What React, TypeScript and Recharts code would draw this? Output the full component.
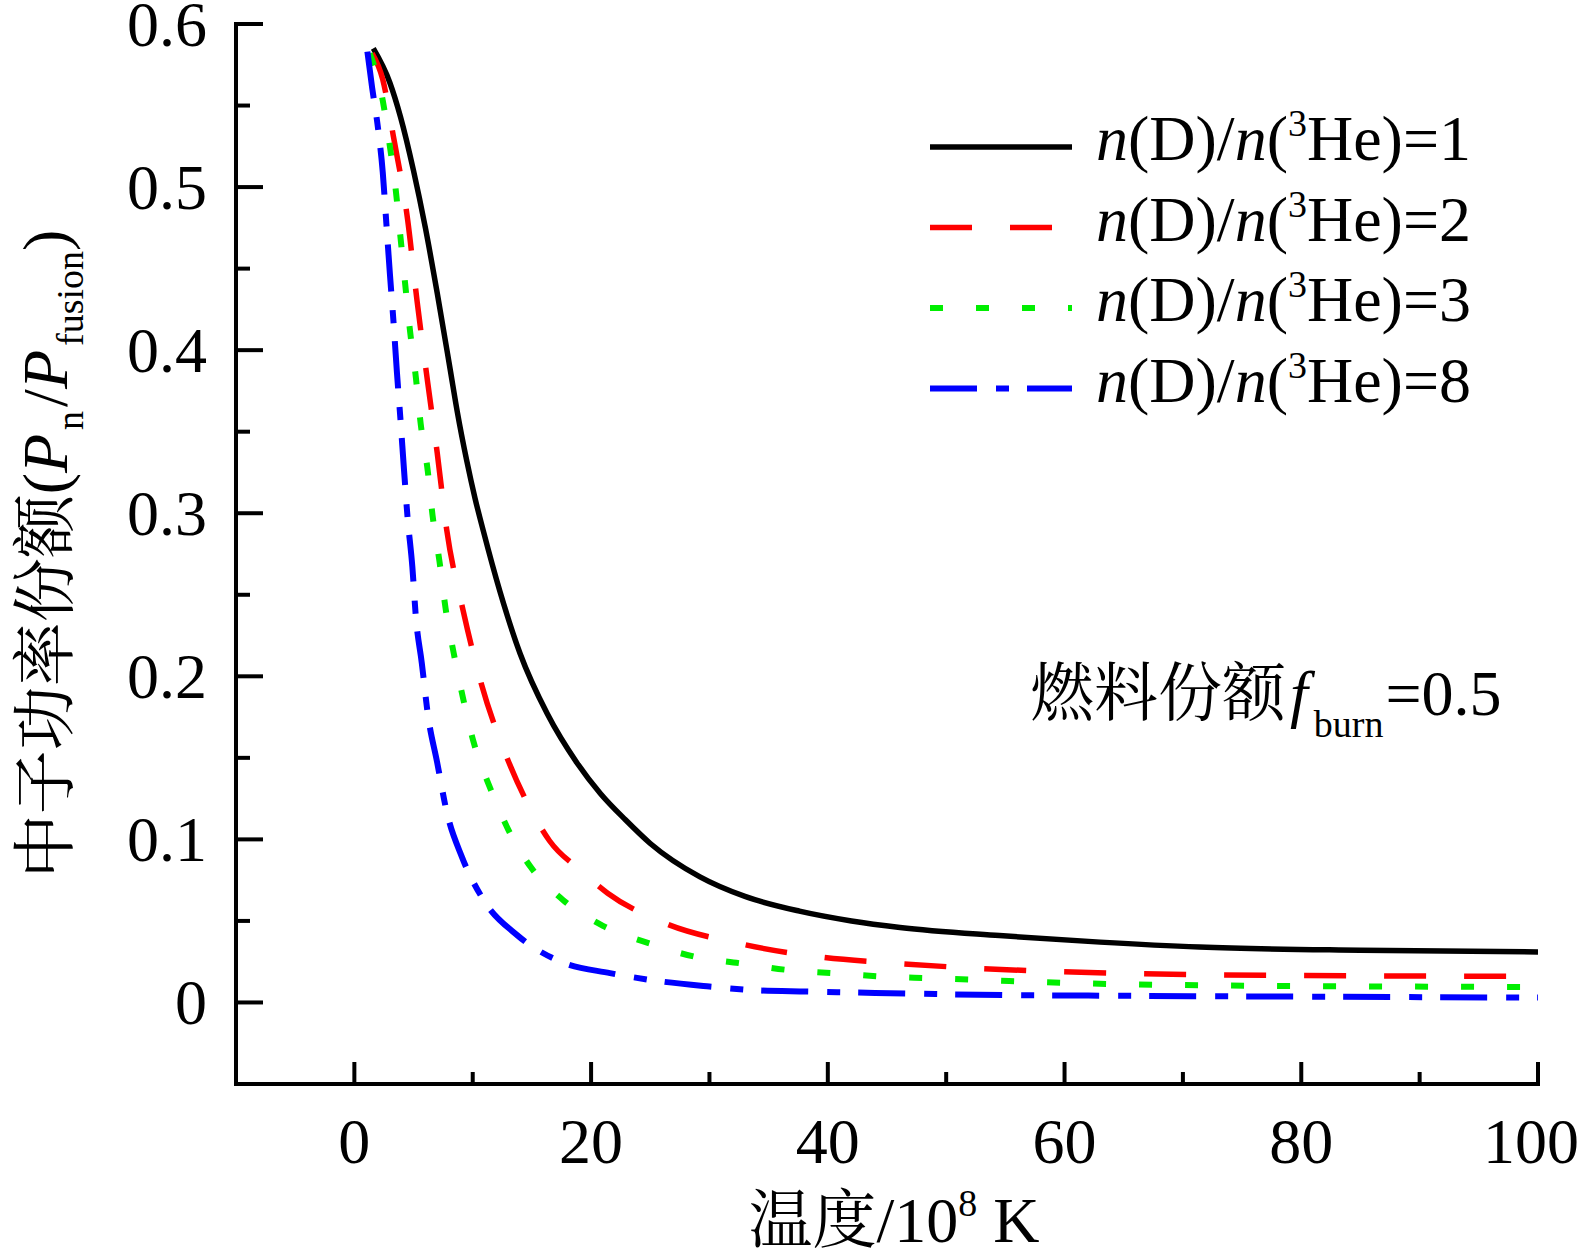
import { LineChart, Line, XAxis, YAxis, Legend } from 'recharts';

const serif = "'Times New Roman', 'Liberation Serif', 'Noto Serif CJK SC', 'Noto Sans CJK SC', serif";
const CHART_W = 1581;
const CHART_H = 1254;

// 温度 (10^8 K) vs 中子功率份额, one pair of arrays per n(D)/n(3He)
const tempR1 = [1.6, 3.0, 3.9, 5.0, 6.0, 7.0, 8.1, 8.7, 9.5, 10.2, 10.9, 12.3, 14.0, 16.3, 18.8, 20.8, 22.9, 25.0, 29.2, 33.0, 37.6, 42.0, 46.1, 54.5, 63.0, 71.4, 85.0, 100];
const fracR1 = [0.585, 0.564, 0.543, 0.51, 0.475, 0.435, 0.388, 0.362, 0.332, 0.309, 0.289, 0.252, 0.214, 0.177, 0.147, 0.128, 0.112, 0.0975, 0.077, 0.065, 0.056, 0.05, 0.046, 0.041, 0.037, 0.034, 0.032, 0.031];

const tempR2 = [1.5, 2.4, 3.3, 4.5, 5.3, 6.2, 7.0, 7.8, 9.2, 10.7, 12.9, 15.0, 16.5, 19.1, 21.4, 26.1, 32.6, 39.2, 45.8, 52.4, 59.0, 72.0, 100];
const fracR2 = [0.582, 0.566, 0.531, 0.48, 0.43, 0.38, 0.337, 0.29, 0.24, 0.196, 0.15, 0.117, 0.099, 0.081, 0.067, 0.049, 0.036, 0.028, 0.024, 0.021, 0.019, 0.017, 0.016];

const tempR3 = [1.3, 2.4, 3.0, 3.5, 3.9, 4.3, 4.7, 5.2, 5.6, 6.2, 6.6, 7.2, 7.7, 8.4, 9.2, 10.1, 11.5, 13.0, 14.9, 17.6, 21.0, 25.0, 28.8, 32.6, 36.5, 40.4, 44.4, 48.2, 52.2, 60.0, 72.0, 100];
const fracR3 = [0.582, 0.553, 0.525, 0.498, 0.469, 0.44, 0.412, 0.383, 0.355, 0.326, 0.299, 0.27, 0.242, 0.214, 0.186, 0.159, 0.131, 0.106, 0.083, 0.063, 0.047, 0.036, 0.028, 0.024, 0.02, 0.018, 0.016, 0.015, 0.014, 0.012, 0.0105, 0.0095];

const tempR8 = [1.1, 1.5, 2.0, 2.4, 2.7, 3.0, 3.3, 3.6, 3.9, 4.2, 4.5, 4.9, 5.2, 5.7, 6.2, 7.0, 7.8, 9.1, 10.9, 13.8, 17.6, 21.6, 25.8, 30.0, 34.0, 38.2, 46.7, 54.8, 62.0, 100];
const fracR8 = [0.583, 0.561, 0.536, 0.509, 0.478, 0.447, 0.418, 0.386, 0.357, 0.326, 0.297, 0.267, 0.236, 0.208, 0.177, 0.147, 0.117, 0.089, 0.063, 0.041, 0.0245, 0.018, 0.013, 0.0098, 0.0074, 0.0067, 0.0055, 0.0045, 0.0042, 0.003];

const ratioNames = ['1', '2', '3', '8'];

const xTicks = [0, 10, 20, 30, 40, 50, 60, 70, 80, 90, 100];
const xMajor = [0, 20, 40, 60, 80, 100];
const yTicks = [0, 0.05, 0.1, 0.15, 0.2, 0.25, 0.3, 0.35, 0.4, 0.45, 0.5, 0.55, 0.6];
const yMajor = [0, 0.1, 0.2, 0.3, 0.4, 0.5, 0.6];

const toPoints = (t: number[], f: number[]) => t.map((x, i) => ({ x, y: f[i] }));

const series = [
  { data: toPoints(tempR1, fracR1), name: ratioNames[0] },
  { data: toPoints(tempR2, fracR2), name: ratioNames[1] },
  { data: toPoints(tempR3, fracR3), name: ratioNames[2] },
  { data: toPoints(tempR8, fracR8), name: ratioNames[3] },
];

const lineStyles = [
  { stroke: '#000000', width: 5.5, dash: undefined as string | undefined },
  { stroke: '#ff0000', width: 5.5, dash: '42 38' },
  { stroke: '#00ee00', width: 6, dash: '13 33' },
  { stroke: '#0000ff', width: 6, dash: '47 19 13 18' },
];

const isIn = (list: number[], v: number) => list.some(m => Math.abs(m - v) < 1e-6);

const YTick = (props: any) => {
  const { x, y, payload } = props;
  const major = isIn(yMajor, payload.value);
  return (
    <g>
      <line x1={x} x2={x + (major ? 27 : 14)} y1={y} y2={y} stroke="#000" strokeWidth={4} />
      {major && (
        <text x={x - 29} y={y} dy="0.34em" textAnchor="end" fontFamily={serif} fontSize={64} fill="#000">
          {String(payload.value)}
        </text>
      )}
    </g>
  );
};

const XTick = (props: any) => {
  const { x, y, payload } = props;
  const major = isIn(xMajor, payload.value);
  // the last label sits against the right edge, as in the original
  const tx = Math.min(x, CHART_W - 50);
  return (
    <g>
      <line x1={x} x2={x} y1={y} y2={y - (major ? 22 : 12)} stroke="#000" strokeWidth={4} />
      {major && (
        <text x={tx} y={y + 79} textAnchor="middle" fontFamily={serif} fontSize={64} fill="#000">
          {String(payload.value)}
        </text>
      )}
    </g>
  );
};

const XTitle = (props: any) => {
  const vb = props.viewBox;
  return (
    <text x={vb.x + vb.width / 2 + 7} y={vb.y + 158} textAnchor="middle" fontFamily={serif} fontSize={64} fill="#000">
      温度/10<tspan fontSize={38} dy={-26}>8</tspan><tspan dy={26}> K</tspan>
    </text>
  );
};

const YTitle = (props: any) => {
  const vb = props.viewBox;
  const cx = vb.x - 69;
  const cy = vb.y + vb.height / 2;
  return (
    <text x={cx} y={cy} transform={`rotate(-90 ${cx} ${cy})`} textAnchor="middle" fontFamily={serif} fontSize={64} fill="#000">
      中子功率份额(<tspan fontStyle="italic">P</tspan>
      <tspan fontSize={38} dy={16} dx={4}>n</tspan>
      <tspan dy={-16} dx={4}>/</tspan>
      <tspan fontStyle="italic">P</tspan>
      <tspan fontSize={38} dy={16} dx={4}>fusion</tspan>
      <tspan dy={-16}>)</tspan>
    </text>
  );
};

const renderLegend = (props: any) => {
  const items = props.payload || [];
  return (
    <svg width={600} height={340} style={{ display: 'block', overflow: 'visible' }}>
      {items.map((item: any, i: number) => {
        const cy = 47 + i * 80.5;
        const st = lineStyles[i];
        return (
          <g key={i}>
            <line x1={10} x2={152} y1={cy} y2={cy} stroke={st.stroke} strokeWidth={st.width} strokeDasharray={st.dash} />
            <text x={176} y={cy + 13} fontFamily={serif} fontSize={64} fill="#000">
              <tspan fontStyle="italic">n</tspan>(D)/<tspan fontStyle="italic">n</tspan>(
              <tspan fontSize={38} dy={-24}>3</tspan>
              <tspan dy={24}>He)={item.value}</tspan>
            </text>
          </g>
        );
      })}
    </svg>
  );
};

export default function App() {
  return (
    <div style={{ position: 'absolute', left: 0, top: 0, width: CHART_W, height: CHART_H, background: '#fff' }}>
      <LineChart width={CHART_W} height={CHART_H} margin={{ top: 24, right: 43, left: 136, bottom: 90 }}>
        <XAxis
          type="number"
          dataKey="x"
          domain={[-10, 100]}
          ticks={xTicks}
          allowDataOverflow
          height={80}
          tickSize={0}
          tickMargin={0}
          tickLine={false}
          axisLine={{ stroke: '#000', strokeWidth: 4, strokeLinecap: 'square' }}
          tick={<XTick />}
          label={(p: any) => <XTitle {...p} />}
        />
        <YAxis
          type="number"
          domain={[-0.05, 0.6]}
          ticks={yTicks}
          allowDataOverflow
          width={100}
          tickSize={0}
          tickMargin={0}
          tickLine={false}
          axisLine={{ stroke: '#000', strokeWidth: 4, strokeLinecap: 'square' }}
          tick={<YTick />}
          label={(p: any) => <YTitle {...p} />}
        />
        <Legend
          layout="vertical"
          align="center"
          verticalAlign="middle"
          content={renderLegend}
          wrapperStyle={{ left: 920, top: 100, width: 600, height: 340 }}
        />
        {series.map((s, i) => (
          <Line
            key={s.name}
            data={s.data}
            dataKey="y"
            name={s.name}
            type="monotone"
            dot={false}
            activeDot={false}
            stroke={lineStyles[i].stroke}
            strokeWidth={lineStyles[i].width}
            strokeDasharray={lineStyles[i].dash}
            isAnimationActive={false}
          />
        ))}
      </LineChart>
      <svg width={CHART_W} height={CHART_H} style={{ position: 'absolute', left: 0, top: 0, pointerEvents: 'none' }}>
        <text x={1030} y={715} fontFamily={serif} fontSize={64} fill="#000">
          燃料份额<tspan fontStyle="italic" dx={4}>f</tspan>
          <tspan fontSize={38} dy={22} dx={6}>burn</tspan>
          <tspan dy={-22} dx={2}>=0.5</tspan>
        </text>
      </svg>
    </div>
  );
}
